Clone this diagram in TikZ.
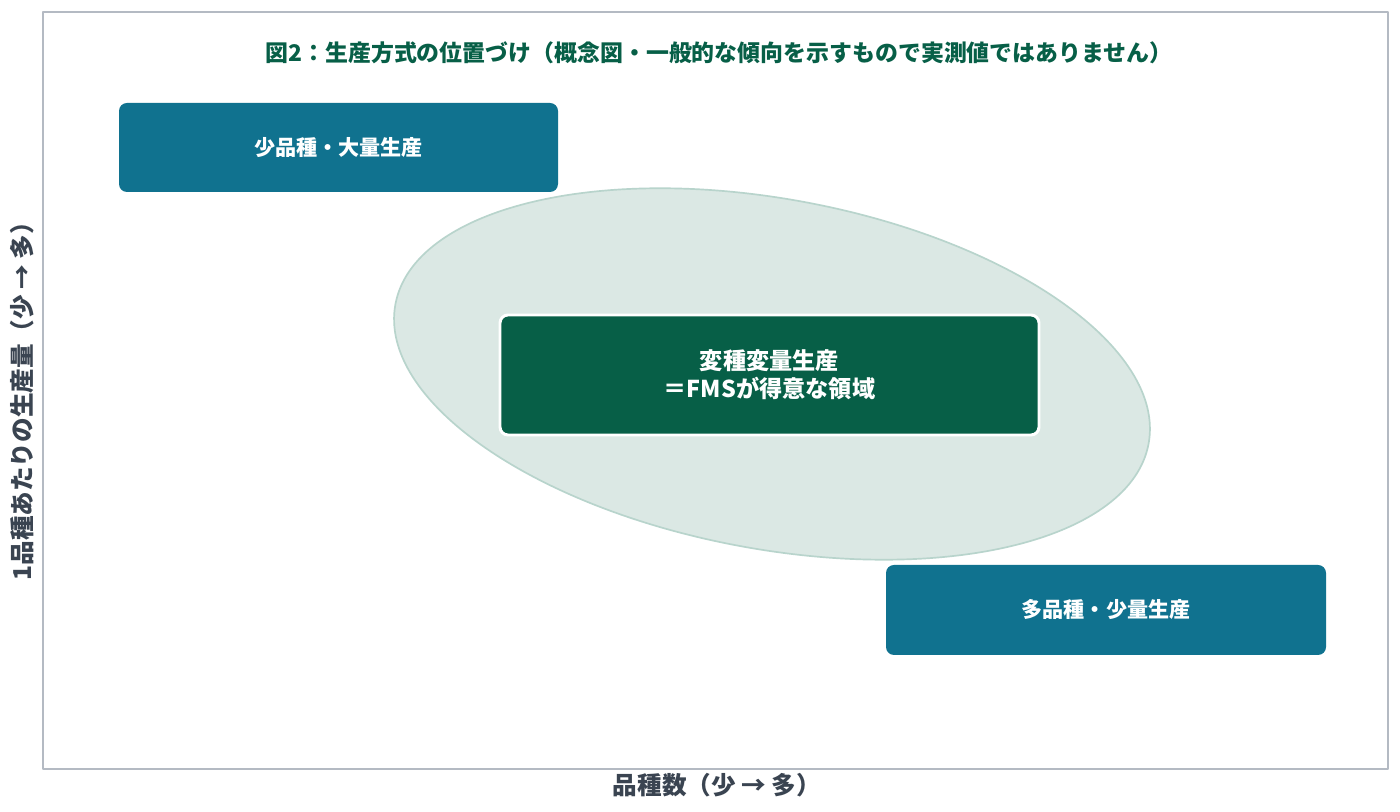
\documentclass[tikz,border=0pt]{standalone}
\usepackage{fontspec}
\setmainfont{Noto Sans CJK JP}
\usepackage{tikz}
\usetikzlibrary{calc}
\definecolor{ttqqgg}{HTML}{10728F}
\definecolor{qqggdd}{HTML}{075F47}
\definecolor{ddeeee}{HTML}{DBE8E4}
\definecolor{bbddcc}{HTML}{B8D4CC}
\definecolor{bbbbcc}{HTML}{B4BAC3}
\definecolor{sstteb}{HTML}{3A4451}
\tikzstyle{every node}=[font=\bfseries]
\tikzstyle{kind}=[fill=ttqqgg,rounded corners=0.2cm,text=white,inner sep=0pt,font=\bfseries\fontsize{15}{20}\selectfont]
\tikzstyle{axislabel}=[text=sstteb,font=\bfseries\fontsize{17.5}{20}\selectfont]

\begin{document}
\begin{tikzpicture}[line cap=round,line join=round,x=1.0cm,y=1.0cm]
            \useasboundingbox (0,0) rectangle (35,20.3);
            \fill[white] (0,0) rectangle (35,20.3);
            \draw [line width=1pt,color=bbbbcc] (1.075,1.075) rectangle (34.7,20.0);
            \node[text=qqggdd,font=\bfseries\fontsize{16.3}{20}\selectfont] (title) at (17.975,18.975) {図2：生産方式の位置づけ（概念図・一般的な傾向を示すもので実測値ではありません）};
            % area of FMS
            \draw [line width=1.2pt,color=bbddcc,fill=ddeeee,rotate around={-10.5:(19.3,10.95)}] (19.3,10.95) ellipse (9.575cm and 4.375cm);
            \node[kind,minimum width=10.975cm,minimum height=2.225cm] (few) at (8.4625,16.6125) {少品種・大量生産};
            \node[kind,minimum width=11.0cm,minimum height=2.25cm] (many) at (27.65,5.05) {多品種・少量生産};
            \node[kind,fill=qqggdd,draw=white,line width=2.1pt,minimum width=13.475cm,minimum height=3.0cm,align=center,font=\bfseries\fontsize{16.5}{20}\selectfont] (fms) at (19.2375,10.925) {変種変量生産\\＝FMSが得意な領域};
            \node[axislabel] (xlab) at (17.925,0.675) {品種数（少 → 多）};
            \node[axislabel,rotate=90] (ylab) at (0.55,10.42) {1品種あたりの生産量（少 → 多）};
\end{tikzpicture}
\end{document}
